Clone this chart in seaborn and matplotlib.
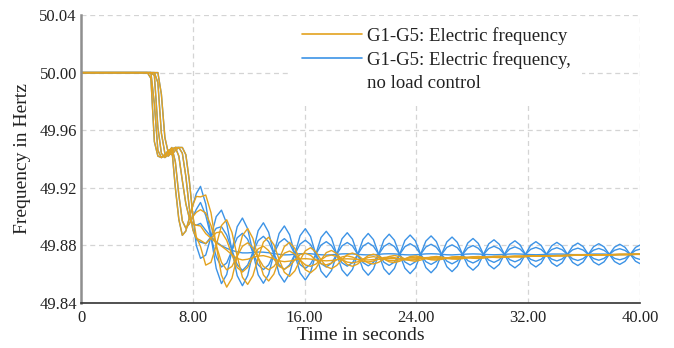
import matplotlib
matplotlib.use("Agg")
import matplotlib.pyplot as plt
from matplotlib.lines import Line2D
from matplotlib.ticker import FixedLocator, MultipleLocator
import pandas as pd
import seaborn as sns

# time axis in seconds (finer where the curves move fast)
time_s = [
    0, 4.5, 4.75, 5.0, 5.25, 5.5, 5.75, 6.0, 6.25, 6.5, 6.75, 7.0, 7.25, 7.5, 7.75, 8.0, 8.25,
    8.55, 8.925, 9.3, 9.675, 10.05, 10.425, 10.8, 11.175, 11.55, 11.925, 12.3, 12.675,
    13.05, 13.425, 13.8, 14.175, 14.55, 14.925, 15.3, 15.675, 16.05, 16.425, 16.8, 17.175,
    17.55, 17.925, 18.3, 18.675, 19.05, 19.425, 19.8, 20.175, 20.55, 20.925, 21.3, 21.675,
    22.05, 22.425, 22.8, 23.175, 23.55, 23.925, 24.3, 24.675, 25.05,
    25.425, 25.8, 26.175, 26.55, 26.925, 27.3, 27.675, 28.05, 28.425, 28.8, 29.175, 29.55,
    29.925, 30.3, 30.675, 31.05, 31.425, 31.8, 32.175, 32.55, 32.925, 33.3, 33.675, 34.05,
    34.425, 34.8, 35.175, 35.55, 35.925, 36.3, 36.675, 37.05, 37.425, 37.8, 38.175, 38.55,
    38.925, 39.3, 39.675, 40.05,
]

# G1-G5 electric frequency (with load control)
orange_g1 = [
    50.0, 50.0, 50.0, 49.996, 49.952, 49.942, 49.941, 49.943, 49.946, 49.947, 49.920, 49.898, 49.887, 49.890, 49.899, 49.908, 49.914,
    49.9137, 49.915, 49.9027, 49.880, 49.8593, 49.851, 49.8572, 49.8725, 49.8869, 49.8917, 49.8849, 49.8714,
    49.8595, 49.8553, 49.8601, 49.8703, 49.8792, 49.8821, 49.8779, 49.8699, 49.8631, 49.861, 49.864, 49.870,
    49.875, 49.8765, 49.8743, 49.8701, 49.8667, 49.8655, 49.8671, 49.8703, 49.8729, 49.8739, 49.8727, 49.8705,
    49.8686, 49.8681, 49.869, 49.8707, 49.8722, 49.8727, 49.8721, 49.8709, 49.870,
    49.8698, 49.8703, 49.8712, 49.872, 49.8722, 49.872, 49.8715, 49.8711, 49.8709, 49.8713, 49.8718, 49.8724,
    49.8725, 49.8724, 49.8722, 49.8721, 49.872, 49.8722, 49.8725, 49.8727, 49.8726, 49.8727, 49.8728, 49.8729,
    49.8729, 49.873, 49.8731, 49.8732, 49.8732, 49.8733, 49.8734, 49.8735, 49.8735, 49.8735, 49.8736, 49.8737,
    49.8737, 49.8737, 49.8738, 49.8738,
]
orange_g2 = [
    50.0, 50.0, 50.0, 50.0, 49.978, 49.946, 49.941, 49.942, 49.945, 49.948, 49.938, 49.915, 49.897, 49.892, 49.895, 49.900, 49.903,
    49.9048, 49.9025, 49.8938, 49.880, 49.8682, 49.863, 49.8654, 49.8725, 49.8794, 49.8818, 49.8783, 49.8714,
    49.8654, 49.8631, 49.8654, 49.8703, 49.8746, 49.8761, 49.8739, 49.8699, 49.8664, 49.8655, 49.867, 49.870,
    49.8725, 49.8733, 49.8722, 49.8701, 49.8684, 49.8679, 49.8686, 49.8703, 49.8716, 49.8722, 49.8715, 49.8705,
    49.8695, 49.8694, 49.8699, 49.8707, 49.8715, 49.8718, 49.8715, 49.8709, 49.8705,
    49.8705, 49.8707, 49.8712, 49.8717, 49.8718, 49.8717, 49.8715, 49.8714, 49.8713, 49.8715, 49.8718, 49.8722,
    49.8723, 49.8722, 49.8722, 49.8722, 49.8722, 49.8723, 49.8725, 49.8727, 49.8726, 49.8727, 49.8728, 49.8729,
    49.8729, 49.873, 49.8731, 49.8732, 49.8732, 49.8733, 49.8734, 49.8735, 49.8735, 49.8735, 49.8736, 49.8737,
    49.8737, 49.8737, 49.8738, 49.8738,
]
orange_g3 = [
    50.0, 50.0, 50.0, 50.0, 49.998, 49.962, 49.944, 49.941, 49.943, 49.947, 49.948, 49.942, 49.925, 49.909, 49.899, 49.895, 49.894,
    49.8935, 49.8882, 49.885, 49.8818, 49.8795, 49.8767, 49.8735, 49.8709, 49.8699, 49.8704, 49.8716, 49.8726,
    49.8729, 49.872, 49.8706, 49.8693, 49.8687, 49.8691, 49.8699, 49.8706, 49.8708, 49.8705, 49.8699, 49.8695,
    49.8693, 49.8695, 49.8701, 49.8705, 49.8707, 49.8705, 49.8702, 49.870, 49.8699, 49.8702, 49.8704, 49.8707,
    49.8708, 49.8708, 49.8707, 49.8705, 49.8706, 49.8707, 49.8709, 49.871, 49.8711,
    49.8712, 49.8711, 49.8711, 49.8712, 49.8712, 49.8714, 49.8715, 49.8717, 49.8716, 49.8717, 49.8718, 49.872,
    49.872, 49.8721, 49.8722, 49.8723, 49.8723, 49.8724, 49.8725, 49.8726, 49.8726, 49.8727, 49.8728, 49.8729,
    49.8729, 49.873, 49.8731, 49.8732, 49.8732, 49.8733, 49.8734, 49.8735, 49.8735, 49.8735, 49.8736, 49.8737,
    49.8737, 49.8737, 49.8738, 49.8738,
]
orange_g4 = [
    50.0, 50.0, 50.0, 50.0, 50.0, 49.993, 49.958, 49.944, 49.942, 49.945, 49.948, 49.948, 49.944, 49.928, 49.906, 49.891, 49.885,
    49.8835, 49.8812, 49.885, 49.8888, 49.8895, 49.8835, 49.8735, 49.8647, 49.8615, 49.8648, 49.8716, 49.8776,
    49.8795, 49.8764, 49.8706, 49.8654, 49.8635, 49.8657, 49.8699, 49.8736, 49.8746, 49.8731, 49.8699, 49.8673,
    49.8665, 49.8677, 49.8701, 49.872, 49.8727, 49.8719, 49.8702, 49.8689, 49.8685, 49.8692, 49.8704, 49.8716,
    49.8719, 49.8715, 49.8707, 49.8699, 49.8698, 49.8701, 49.8709, 49.8715, 49.8717,
    49.8716, 49.8711, 49.8708, 49.8708, 49.871, 49.8714, 49.8718, 49.872, 49.8718, 49.8717, 49.8716, 49.8718,
    49.8718, 49.8721, 49.8723, 49.8725, 49.8724, 49.8724, 49.8724, 49.8725, 49.8726, 49.8727, 49.8728, 49.8729,
    49.8729, 49.873, 49.8731, 49.8732, 49.8732, 49.8733, 49.8734, 49.8735, 49.8735, 49.8735, 49.8736, 49.8737,
    49.8737, 49.8737, 49.8738, 49.8738,
]
orange_g5 = [
    50.0, 50.0, 50.0, 50.0, 50.0, 50.0, 49.985, 49.955, 49.944, 49.943, 49.946, 49.948, 49.948, 49.943, 49.925, 49.901, 49.886,
    49.8792, 49.8663, 49.8682, 49.880, 49.8938, 49.8978, 49.889, 49.8725, 49.8579, 49.8529, 49.859, 49.8714,
    49.8823, 49.8857, 49.8805, 49.8703, 49.8613, 49.8585, 49.8623, 49.8699, 49.8762, 49.8784, 49.8755, 49.870,
    49.8653, 49.8638, 49.8661, 49.8701, 49.8736, 49.8747, 49.8732, 49.8703, 49.8678, 49.8671, 49.8683, 49.8705,
    49.8723, 49.873, 49.8723, 49.8707, 49.8695, 49.869, 49.8698, 49.8709, 49.8719,
    49.8723, 49.8719, 49.8712, 49.8706, 49.8704, 49.8708, 49.8715, 49.8721, 49.8723, 49.8721, 49.8718, 49.8717,
    49.8715, 49.8718, 49.8722, 49.8725, 49.8726, 49.8726, 49.8725, 49.8725, 49.8726, 49.8727, 49.8728, 49.8729,
    49.8729, 49.873, 49.8731, 49.8732, 49.8732, 49.8733, 49.8734, 49.8735, 49.8735, 49.8735, 49.8736, 49.8737,
    49.8737, 49.8737, 49.8738, 49.8738,
]

# G1-G5 electric frequency, no load control
blue_g1 = [
    50.0, 50.0, 50.0, 49.996, 49.952, 49.942, 49.941, 49.943, 49.946, 49.947, 49.920, 49.898, 49.887, 49.890, 49.899, 49.908, 49.916,
    49.921, 49.9088, 49.886, 49.864, 49.8535, 49.8598, 49.8765, 49.893, 49.899, 49.8915, 49.8751, 49.8596,
    49.8537, 49.8599, 49.8743, 49.8883, 49.8935, 49.8874, 49.8739, 49.8609, 49.856, 49.8615, 49.8738, 49.8855,
    49.8898, 49.885, 49.8738, 49.863, 49.8588, 49.8633, 49.8738, 49.8841, 49.8883, 49.884, 49.8738, 49.8638,
    49.8598, 49.864, 49.8738, 49.8834, 49.8872, 49.8832, 49.8738, 49.8646, 49.861,
    49.8649, 49.8738, 49.8824, 49.8858, 49.8821, 49.8738, 49.8659, 49.8628, 49.8662, 49.8738, 49.8811, 49.8839,
    49.8808, 49.8738, 49.867, 49.8644, 49.8673, 49.8738, 49.8801, 49.8826, 49.880, 49.8738, 49.8679, 49.8655,
    49.868, 49.8738, 49.8794, 49.8816, 49.8792, 49.8738, 49.8685, 49.8664, 49.8686, 49.8738, 49.8788, 49.8808,
    49.8787, 49.8738, 49.869, 49.8671,
]
blue_g2 = [
    50.0, 50.0, 50.0, 50.0, 49.978, 49.946, 49.941, 49.942, 49.945, 49.948, 49.938, 49.915, 49.897, 49.892, 49.895, 49.900, 49.905,
    49.9098, 49.9008, 49.886, 49.8721, 49.865, 49.8678, 49.8765, 49.8853, 49.8884, 49.8842, 49.8751, 49.8665,
    49.8632, 49.8665, 49.8743, 49.8819, 49.8847, 49.8813, 49.8739, 49.8667, 49.864, 49.867, 49.8738, 49.8802,
    49.8826, 49.8799, 49.8738, 49.8679, 49.8656, 49.868, 49.8738, 49.8795, 49.8818, 49.8794, 49.8738, 49.8683,
    49.8661, 49.8684, 49.8738, 49.8791, 49.8812, 49.879, 49.8738, 49.8687, 49.8668,
    49.8689, 49.8738, 49.8786, 49.8804, 49.8784, 49.8738, 49.8694, 49.8678, 49.8696, 49.8738, 49.8778, 49.8794,
    49.8777, 49.8738, 49.8701, 49.8686, 49.8702, 49.8738, 49.8773, 49.8786, 49.8772, 49.8738, 49.8705, 49.8692,
    49.8706, 49.8738, 49.8769, 49.8781, 49.8768, 49.8738, 49.8709, 49.8697, 49.871, 49.8738, 49.8766, 49.8777,
    49.8765, 49.8738, 49.8712, 49.8701,
]
blue_g3 = [
    50.0, 50.0, 50.0, 50.0, 49.998, 49.962, 49.944, 49.941, 49.943, 49.947, 49.948, 49.942, 49.925, 49.909, 49.899, 49.895, 49.894,
    49.8953, 49.8905, 49.886, 49.8825, 49.8798, 49.878, 49.8765, 49.8755, 49.8748, 49.8748, 49.8751, 49.8754,
    49.8753, 49.8749, 49.8743, 49.8738, 49.8734, 49.8735, 49.8739, 49.8742, 49.8743, 49.8742, 49.8738, 49.8735,
    49.8733, 49.8735, 49.8738, 49.8741, 49.8742, 49.8741, 49.8738, 49.8735, 49.8734, 49.8735, 49.8738, 49.8741,
    49.8742, 49.8741, 49.8738, 49.8735, 49.8734, 49.8735, 49.8738, 49.8741, 49.8742,
    49.8741, 49.8738, 49.8735, 49.8734, 49.8736, 49.8738, 49.874, 49.8741, 49.874, 49.8738, 49.8736, 49.8735,
    49.8736, 49.8738, 49.874, 49.8741, 49.874, 49.8738, 49.8736, 49.8735, 49.8736, 49.8738, 49.874, 49.874,
    49.874, 49.8738, 49.8736, 49.8736, 49.8736, 49.8738, 49.874, 49.874, 49.874, 49.8738, 49.8736, 49.8736,
    49.8737, 49.8738, 49.8739, 49.874,
]
blue_g4 = [
    50.0, 50.0, 50.0, 50.0, 50.0, 49.993, 49.958, 49.944, 49.942, 49.945, 49.948, 49.948, 49.944, 49.928, 49.906, 49.891, 49.884,
    49.8823, 49.8812, 49.886, 49.8919, 49.893, 49.8872, 49.8765, 49.8667, 49.8626, 49.8664, 49.8751, 49.8833,
    49.8863, 49.8825, 49.8743, 49.8665, 49.8633, 49.8665, 49.8739, 49.8809, 49.8836, 49.8806, 49.8738, 49.8674,
    49.865, 49.8677, 49.8738, 49.8797, 49.882, 49.8796, 49.8738, 49.8681, 49.8658, 49.8682, 49.8738, 49.8793,
    49.8815, 49.8792, 49.8738, 49.8685, 49.8664, 49.8686, 49.8738, 49.8789, 49.8808,
    49.8787, 49.8738, 49.8691, 49.8672, 49.8692, 49.8738, 49.8782, 49.8799, 49.878, 49.8738, 49.8698, 49.8682,
    49.870, 49.8738, 49.8775, 49.879, 49.8774, 49.8738, 49.8703, 49.869, 49.8704, 49.8738, 49.8771, 49.8784,
    49.877, 49.8738, 49.8707, 49.8695, 49.8708, 49.8738, 49.8767, 49.8779, 49.8766, 49.8738, 49.871, 49.870,
    49.8711, 49.8738, 49.8765, 49.8775,
]
blue_g5 = [
    50.0, 50.0, 50.0, 50.0, 50.0, 50.0, 49.985, 49.955, 49.944, 49.943, 49.946, 49.948, 49.948, 49.943, 49.925, 49.901, 49.880,
    49.871, 49.8733, 49.886, 49.900, 49.9045, 49.8952, 49.8765, 49.859, 49.852, 49.8591, 49.8751, 49.8902,
    49.8957, 49.8891, 49.8743, 49.8601, 49.8545, 49.8604, 49.8739, 49.8867, 49.8916, 49.8861, 49.8738, 49.8621,
    49.8578, 49.8626, 49.8738, 49.8846, 49.8888, 49.8843, 49.8738, 49.8635, 49.8593, 49.8636, 49.8738, 49.8838,
    49.8878, 49.8836, 49.8738, 49.8642, 49.8604, 49.8644, 49.8738, 49.883, 49.8866,
    49.8827, 49.8738, 49.8652, 49.8618, 49.8655, 49.8738, 49.8817, 49.8848, 49.8814, 49.8738, 49.8665, 49.8637,
    49.8668, 49.8738, 49.8806, 49.8832, 49.8803, 49.8738, 49.8675, 49.865, 49.8677, 49.8738, 49.8797, 49.8821,
    49.8796, 49.8738, 49.8682, 49.866, 49.8684, 49.8738, 49.8791, 49.8812, 49.879, 49.8738, 49.8688, 49.8668,
    49.8689, 49.8738, 49.8786, 49.8805,
]

x_ticks = [0, 8, 16, 24, 32, 40]
x_tick_labels = ["0", "8.00", "16.00", "24.00", "32.00", "40.00"]
y_ticks = [49.84, 49.88, 49.92, 49.96, 50.00, 50.04]
y_tick_labels = ["49.84", "49.88", "49.92", "49.96", "50.00", "50.04"]
legend_labels = ["G1-G5: Electric frequency", "G1-G5: Electric frequency,", "no load control"]

ORANGE = "#e3a21f"
BLUE = "#3c93e6"


def long_frame(curves, prefix):
    parts = []
    for i, vals in enumerate(curves, 1):
        parts.append(pd.DataFrame({"time": time_s, "freq": vals, "unit": f"{prefix}{i}"}))
    return pd.concat(parts, ignore_index=True)


orange_df = long_frame([orange_g1, orange_g2, orange_g3, orange_g4, orange_g5], "O")
blue_df = long_frame([blue_g1, blue_g2, blue_g3, blue_g4, blue_g5], "B")

sns.set_theme(style="white")
plt.rcParams["font.family"] = ["Liberation Serif", "DejaVu Serif"]

fig = plt.figure(figsize=(6.74, 3.48), dpi=100)
ax = fig.add_axes([0.1202, 0.1293, 0.8294, 0.8276])

# blue first so the orange curves sit on top during the shared transient
sns.lineplot(data=blue_df, x="time", y="freq", units="unit", estimator=None,
             color=BLUE, lw=1.0, ax=ax, legend=False)
sns.lineplot(data=orange_df, x="time", y="freq", units="unit", estimator=None,
             color=ORANGE, lw=1.0, ax=ax, legend=False)

ax.set_xlim(0, 40)
ax.set_ylim(49.84, 50.04)
ax.xaxis.set_major_locator(FixedLocator(x_ticks))
ax.set_xticklabels(x_tick_labels)
ax.yaxis.set_major_locator(FixedLocator(y_ticks))
ax.set_yticklabels(y_tick_labels)
ax.xaxis.set_minor_locator(MultipleLocator(4))
ax.yaxis.set_minor_locator(MultipleLocator(0.02))
ax.tick_params(which="major", length=0, labelsize=12, pad=3, colors="#222222")
ax.tick_params(axis="x", which="major", pad=5)
ax.tick_params(which="minor", direction="in", length=3, width=0.8, color="#aaaaaa")

ax.set_axisbelow(True)
ax.grid(True, which="major", ls=(0, (4, 3)), color="#d4d4d4", lw=0.9)

for side in ("top", "right"):
    ax.spines[side].set_visible(False)
ax.spines["left"].set_color("#8f8f8f")
ax.spines["left"].set_linewidth(1.8)
ax.spines["bottom"].set_color("#333333")
ax.spines["bottom"].set_linewidth(1.2)

ax.set_xlabel("Time in seconds", fontsize=14, labelpad=1, color="#222222")
ax.set_ylabel("Frequency in Hertz", fontsize=14, labelpad=6, color="#222222")

handles = [Line2D([], [], color=ORANGE, lw=1.2),
           Line2D([], [], color=BLUE, lw=1.2),
           Line2D([], [], color="none", lw=0)]
leg = ax.legend(handles, legend_labels, loc="upper left", bbox_to_anchor=(0.375, 0.998),
                frameon=True, facecolor="white", edgecolor="none", framealpha=1,
                fancybox=False, handlelength=3.2, handletextpad=0.27, labelspacing=0.33,
                borderpad=0.6, borderaxespad=0, fontsize=13.5)
for t in leg.get_texts():
    t.set_color("#222222")

fig.savefig("out.png", dpi=100)
